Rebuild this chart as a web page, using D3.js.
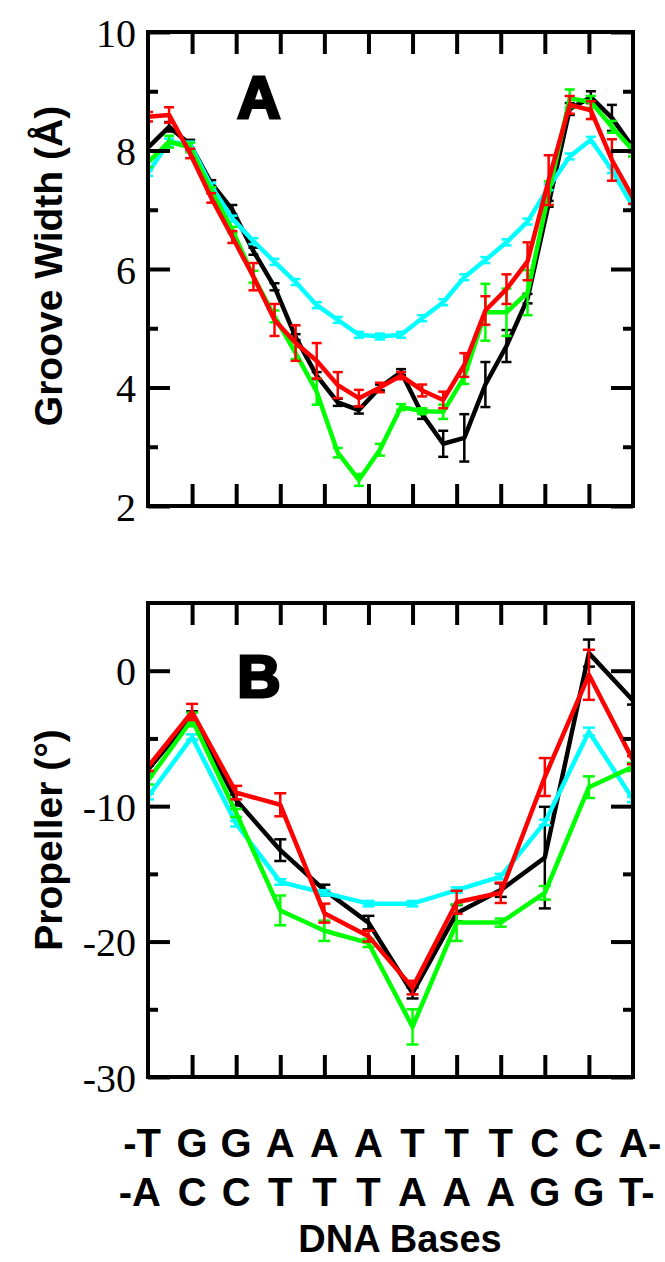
<!DOCTYPE html>
<html>
<head>
<meta charset="utf-8">
<script src="https://cdn.jsdelivr.net/npm/d3@7"></script>
<style>
  body { margin: 0; background: #fff; }
  svg { display: block; }
  .tick line { stroke: #000; stroke-width: 4px; }
  .domain { display: none; }
  .lbl { font-family: "Liberation Sans", Arial, sans-serif; font-weight: bold; fill: #000; }
  svg .tick text.num { font-family: "Liberation Serif", "Tinos", "Times New Roman", "DejaVu Serif", serif; font-size: 40px; font-weight: normal; }
</style>
</head>
<body>
<svg width="665" height="1262"></svg>
<script>
// base pair labels (bottom axis)
var topStrand = ["-T","G","G","A","A","A","T","T","T","C","C","A-"];
var bottomStrand = ["-A","C","C","T","T","T","A","A","A","G","G","T-"];

// panel A: minor groove width, 24 points along the sequence
var grooveBlack = [8.05,8.4,8.1,7.45,7.0,6.3,5.7,4.85,4.2,3.75,3.62,4.0,4.26,3.55,3.05,3.15,4.05,4.7,5.5,7.1,8.7,8.9,8.55,8.05];
var grooveBlackErr = [0.05,0.08,0.08,0.05,0.08,0.06,0.06,0.05,0.06,0.06,0.06,0.05,0.05,0.08,0.22,0.4,0.38,0.27,0.08,0.05,0.1,0.1,0.22,0.08];
var grooveCyan = [7.62,8.15,8.1,7.4,6.85,6.47,6.12,5.78,5.39,5.14,4.89,4.86,4.89,5.17,5.44,5.86,6.15,6.45,6.8,7.38,7.9,8.18,7.67,7.05];
var grooveCyanErr = [0.05,0.05,0.05,0.05,0.05,0.05,0.05,0.05,0.05,0.05,0.05,0.05,0.05,0.05,0.05,0.05,0.05,0.05,0.05,0.05,0.05,0.05,0.05,0.05];
var grooveGreen = [7.8,8.15,8.05,7.33,6.66,5.87,5.2,4.58,3.93,2.9,2.44,2.95,3.67,3.6,3.59,4.18,5.27,5.27,5.6,7.28,8.88,8.82,8.4,8.0];
var grooveGreenErr = [0.08,0.1,0.08,0.05,0.05,0.1,0.1,0.1,0.22,0.08,0.1,0.1,0.05,0.05,0.12,0.12,0.48,0.4,0.38,0.2,0.15,0.1,0.1,0.1];
var grooveRed = [8.57,8.6,7.95,7.2,6.54,5.87,5.14,4.75,4.45,4.04,3.82,4.0,4.2,3.95,3.79,4.38,5.3,5.66,6.13,7.5,8.77,8.68,7.84,7.2];
var grooveRedErr = [0.08,0.13,0.08,0.08,0.1,0.23,0.27,0.3,0.3,0.22,0.14,0.08,0.06,0.1,0.14,0.2,0.24,0.25,0.32,0.42,0.15,0.15,0.35,0.1];

// panel B: propeller twist per base pair
var propBlack = [-7.3,-3.4,-9.55,-13.25,-16.2,-18.6,-23.8,-17.9,-16.2,-13.8,1.3,-2.2];
var propBlackErr = [0.3,0.4,0.4,0.8,0.4,0.5,0.4,0.6,0.5,3.75,1.0,0.3];
var propCyan = [-9.3,-4.9,-11.3,-15.6,-16.4,-17.2,-17.2,-16.2,-15.2,-11.2,-4.5,-9.5];
var propCyanErr = [0.2,0.2,0.2,0.2,0.2,0.2,0.2,0.2,0.2,0.2,0.3,0.2];
var propGreen = [-8.1,-3.6,-10.5,-17.7,-19.2,-20.1,-26.3,-18.6,-18.6,-16.4,-8.6,-7.1];
var propGreenErr = [0.3,0.5,0.3,1.1,0.75,0.3,1.3,1.35,0.3,0.5,0.8,0.3];
var propRed = [-7.1,-3.05,-9.0,-9.9,-17.9,-19.6,-23.4,-17.1,-16.4,-7.85,-0.3,-6.6];
var propRedErr = [0.3,0.6,0.5,0.85,0.7,0.4,0.5,0.85,0.75,1.4,1.85,0.3];

var colors = ["#000000", "#00ffff", "#00ff00", "#ff0000"];

var svg = d3.select("svg");
var left = 148, right = 633;

var xBase = d3.scaleLinear().domain([0, 11]).range([left, right]);
var xStep = d3.scaleLinear().domain([0, 23]).range([left, right]);
var yA = d3.scaleLinear().domain([2, 10]).range([506, 32]);
var yB = d3.scaleLinear().domain([-30, 5]).range([1077, 603]);

function panel(id, y, xs, series, errs, majors, minors, capW, letter, letterY) {
  var top = y.range()[1], bottom = y.range()[0];
  var g = svg.append("g");

  g.append("clipPath").attr("id", id)
    .append("rect").attr("x", left).attr("y", top)
    .attr("width", right - left).attr("height", bottom - top);

  var data = g.append("g").attr("clip-path", "url(#" + id + ")");
  var line = d3.line().x(function(d, i) { return xs(i); }).y(function(d) { return y(d); });

  series.forEach(function(vals, s) {
    var col = colors[s];
    var eg = data.append("g").attr("stroke", col).attr("stroke-width", 2.5);
    vals.forEach(function(v, i) {
      var e = errs[s][i], x = xs(i);
      eg.append("line").attr("x1", x).attr("x2", x).attr("y1", y(v - e)).attr("y2", y(v + e));
      eg.append("line").attr("x1", x - capW).attr("x2", x + capW).attr("y1", y(v - e)).attr("y2", y(v - e));
      eg.append("line").attr("x1", x - capW).attr("x2", x + capW).attr("y1", y(v + e)).attr("y2", y(v + e));
    });
    data.append("path").datum(vals)
      .attr("d", line)
      .attr("fill", "none")
      .attr("stroke", col)
      .attr("stroke-width", 4.5)
      .attr("stroke-linejoin", "round");
  });

  // inward ticks on all four sides
  var yAxis = g.append("g").attr("transform", "translate(" + left + ",0)")
    .call(d3.axisLeft(y).tickValues(majors).tickSize(-22).tickPadding(12)
      .tickFormat(function(d) { return String(d); }));
  yAxis.attr("font-family", null).attr("font-size", null);
  yAxis.selectAll(".tick text")
    .attr("class", "num")
    .attr("dy", "0.35em")
    .attr("fill", "#000");

  g.append("g").attr("transform", "translate(" + left + ",0)")
    .call(d3.axisLeft(y).tickValues(minors).tickSize(-10).tickFormat(""));
  g.append("g").attr("transform", "translate(" + right + ",0)")
    .call(d3.axisRight(y).tickValues(majors).tickSize(-22).tickFormat(""));
  g.append("g").attr("transform", "translate(" + right + ",0)")
    .call(d3.axisRight(y).tickValues(minors).tickSize(-10).tickFormat(""));
  g.append("g").attr("transform", "translate(0," + top + ")")
    .call(d3.axisTop(xBase).tickValues(d3.range(1, 11)).tickSize(-22).tickFormat(""));
  g.append("g").attr("transform", "translate(0," + bottom + ")")
    .call(d3.axisBottom(xBase).tickValues(d3.range(1, 11)).tickSize(-22).tickFormat(""));

  g.append("rect").attr("x", left).attr("y", top)
    .attr("width", right - left).attr("height", bottom - top)
    .attr("fill", "none").attr("stroke", "#000").attr("stroke-width", 4);

  g.append("text").attr("class", "lbl")
    .attr("x", 259).attr("y", letterY)
    .attr("text-anchor", "middle")
    .attr("font-size", 60)
    .attr("stroke", "#000").attr("stroke-width", 3)
    .text(letter);
}

panel("clipA", yA, xStep,
  [grooveBlack, grooveCyan, grooveGreen, grooveRed],
  [grooveBlackErr, grooveCyanErr, grooveGreenErr, grooveRedErr],
  [2, 4, 6, 8, 10], [3, 5, 7, 9], 5, "A", 118);

panel("clipB", yB, xBase,
  [propBlack, propCyan, propGreen, propRed],
  [propBlackErr, propCyanErr, propGreenErr, propRedErr],
  [-30, -20, -10, 0], [-25, -15, -5], 6, "B", 697);

// y titles
svg.append("text").attr("class", "lbl")
  .attr("transform", "translate(62,266) rotate(-90)")
  .attr("text-anchor", "middle").attr("font-size", 39)
  .text("Groove Width (Å)");
svg.append("text").attr("class", "lbl")
  .attr("transform", "translate(62,840) rotate(-90)")
  .attr("text-anchor", "middle").attr("font-size", 39)
  .text("Propeller (°)");

// base labels
function strand(labels, yPos) {
  svg.append("g").selectAll("text").data(labels).enter().append("text")
    .attr("class", "lbl")
    .attr("font-size", 40)
    .attr("y", yPos)
    .attr("x", function(d, i) {
      if (i === 0) return xBase(i) + 13;
      if (i === labels.length - 1) return xBase(i) - 14;
      return xBase(i);
    })
    .attr("text-anchor", function(d, i) {
      if (i === 0) return "end";
      if (i === labels.length - 1) return "start";
      return "middle";
    })
    .text(function(d) { return d; });
}
strand(topStrand, 1157);
strand(bottomStrand, 1206);

svg.append("text").attr("class", "lbl")
  .attr("x", 400).attr("y", 1252)
  .attr("text-anchor", "middle").attr("font-size", 38)
  .text("DNA Bases");
</script>
</body>
</html>
